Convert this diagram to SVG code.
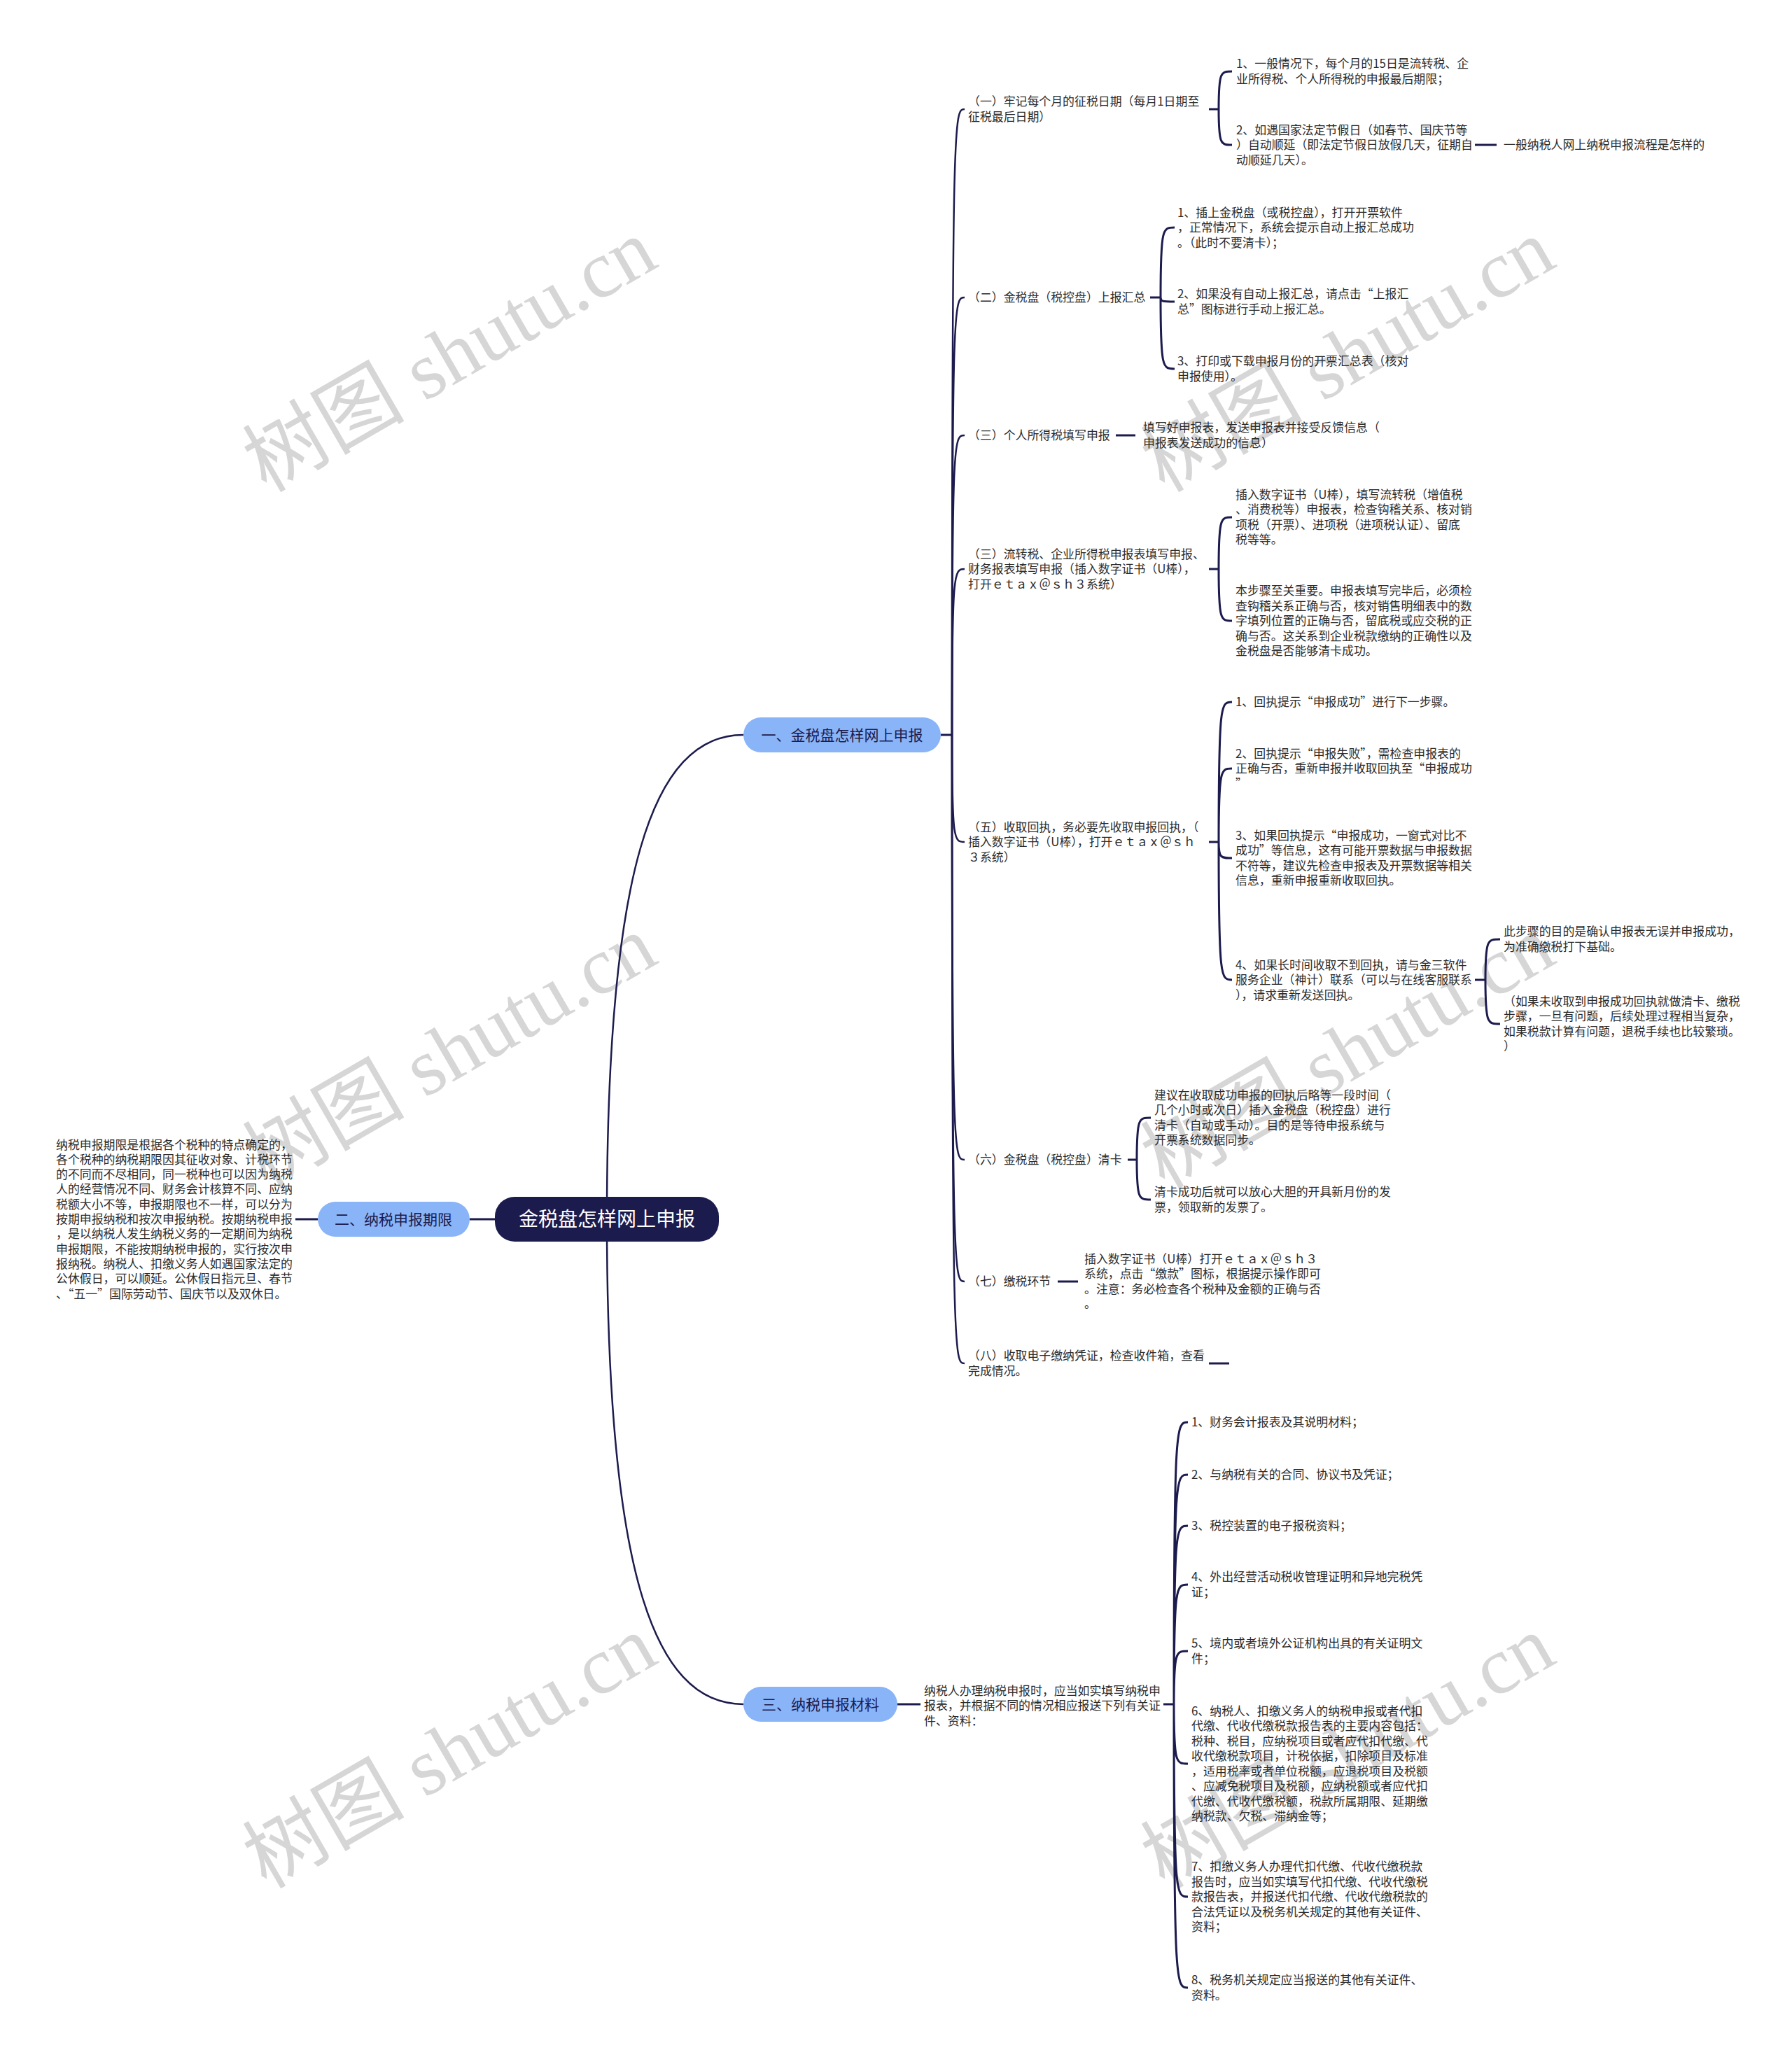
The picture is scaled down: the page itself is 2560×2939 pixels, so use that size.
<svg xmlns="http://www.w3.org/2000/svg" width="2560" height="2939" viewBox="0 0 2560 2939">
<style>
.t{font-family:"Noto Sans CJK SC","Noto Sans",sans-serif;font-size:16.9px;fill:#2b2b2b}
.ln{fill:none;stroke:#1c1b4d;stroke-width:3}
.tr{fill:none;stroke:#1c1b4d;stroke-width:2.5}
.wm{font-family:"Liberation Serif","Noto Sans CJK SC",serif;font-size:116px;fill:#d6d6d6}
.bn{fill:#8ab4f8}
.bt{font-family:"Noto Sans CJK SC",sans-serif;font-size:21px;fill:#1c1b4d;text-anchor:middle}
</style>
<rect width="2560" height="2939" fill="#ffffff"/>
<g id="watermark">
<text class="wm" x="662" y="542" text-anchor="middle" transform="rotate(-30 662 542)">树图 shutu.cn</text>
<text class="wm" x="662" y="1537" text-anchor="middle" transform="rotate(-30 662 1537)">树图 shutu.cn</text>
<text class="wm" x="662" y="2537" text-anchor="middle" transform="rotate(-30 662 2537)">树图 shutu.cn</text>
<text class="wm" x="1945" y="542" text-anchor="middle" transform="rotate(-30 1945 542)">树图 shutu.cn</text>
<text class="wm" x="1945" y="1537" text-anchor="middle" transform="rotate(-30 1945 1537)">树图 shutu.cn</text>
<text class="wm" x="1945" y="2537" text-anchor="middle" transform="rotate(-30 1945 2537)">树图 shutu.cn</text>
</g>
<g id="connectors">
<path class="tr" d="M867 1742 C867 1250 930 1050 1062 1050"/>
<path class="tr" d="M867 1742 C867 2234 930 2435 1062 2435"/>
<path class="ln" d="M671 1742 L707 1742"/>
<path class="ln" d="M422 1742 L454 1742"/>
<path class="ln" d="M1344 1050 L1360 1050"/>
<path class="tr" d="M1360 1050 C1360 156 1363 156 1378 156"/>
<path class="tr" d="M1360 1050 C1360 425 1363 425 1378 425"/>
<path class="tr" d="M1360 1050 C1360 622 1363 622 1378 622"/>
<path class="tr" d="M1360 1050 C1360 813 1363 813 1378 813"/>
<path class="tr" d="M1360 1050 C1360 1203 1363 1203 1378 1203"/>
<path class="tr" d="M1360 1050 C1360 1657 1363 1657 1378 1657"/>
<path class="tr" d="M1360 1050 C1360 1831 1363 1831 1378 1831"/>
<path class="tr" d="M1360 1050 C1360 1948 1363 1948 1378 1948"/>
<path class="ln" d="M1727 156 L1741 156 M1741 156 C1741 102 1744 102 1760 102 M1741 156 C1741 207 1744 207 1760 207"/>
<path class="ln" d="M2107 207 L2138 207"/>
<path class="ln" d="M1643 425 L1658 425 M1658 425 C1658 325 1661 325 1678 325 M1658 425 C1658 431 1661 431 1678 431 M1658 425 C1658 527 1661 527 1678 527"/>
<path class="ln" d="M1594 622 L1622 622"/>
<path class="ln" d="M1727 813 L1741 813 M1741 813 C1741 739 1744 739 1760 739 M1741 813 C1741 887 1744 887 1760 887"/>
<path class="ln" d="M1727 1203 L1741 1203 M1741 1203 C1741 1003 1744 1003 1760 1003 M1741 1203 C1741 1098 1744 1098 1760 1098 M1741 1203 C1741 1226 1744 1226 1760 1226 M1741 1203 C1741 1400 1744 1400 1760 1400"/>
<path class="ln" d="M2107 1400 L2122 1400 M2122 1400 C2122 1342 2125 1342 2143 1342 M2122 1400 C2122 1463 2125 1463 2143 1463"/>
<path class="ln" d="M1611 1657 L1624 1657 M1624 1657 C1624 1597 1627 1597 1644 1597 M1624 1657 C1624 1714 1627 1714 1644 1714"/>
<path class="ln" d="M1511 1831 L1540 1831"/>
<path class="ln" d="M1727 1948 L1756 1948"/>
<path class="ln" d="M1282 2435 L1315 2435"/>
<path class="ln" d="M1662 2435 L1677 2435 M1677 2435 C1677 2032 1680 2032 1697 2032 M1677 2435 C1677 2107 1680 2107 1697 2107 M1677 2435 C1677 2180 1680 2180 1697 2180 M1677 2435 C1677 2264 1680 2264 1697 2264 M1677 2435 C1677 2359 1680 2359 1697 2359 M1677 2435 C1677 2520 1680 2520 1697 2520 M1677 2435 C1677 2710 1680 2710 1697 2710 M1677 2435 C1677 2840 1680 2840 1697 2840"/>
</g>
<g id="root">
<rect x="707" y="1710" width="320" height="64" rx="28" fill="#1c1b4d"/>
<text x="867" y="1752" text-anchor="middle" font-family="Noto Sans CJK SC, sans-serif" font-size="28" fill="#ffffff">金税盘怎样网上申报</text>
</g>
<g id="b1">
<rect class="bn" x="1062" y="1025" width="282" height="50" rx="25"/>
<text class="bt" x="1203" y="1058">一、金税盘怎样网上申报</text>
</g>
<g id="b2">
<rect class="bn" x="454" y="1717" width="217" height="50" rx="25"/>
<text class="bt" x="562" y="1750">二、纳税申报期限</text>
</g>
<g id="b3">
<rect class="bn" x="1062" y="2410" width="220" height="50" rx="25"/>
<text class="bt" x="1172" y="2443">三、纳税申报材料</text>
</g>
<g id="b2-text"><text class="t" y="1641.5">
<tspan x="80">纳税申报期限是根据各个税种的特点确定的，</tspan>
<tspan x="80" dy="21.3">各个税种的纳税期限因其征收对象、计税环节</tspan>
<tspan x="80" dy="21.3">的不同而不尽相同，同一税种也可以因为纳税</tspan>
<tspan x="80" dy="21.3">人的经营情况不同、财务会计核算不同、应纳</tspan>
<tspan x="80" dy="21.3">税额大小不等，申报期限也不一样，可以分为</tspan>
<tspan x="80" dy="21.3">按期申报纳税和按次申报纳税。按期纳税申报</tspan>
<tspan x="80" dy="21.3">，是以纳税人发生纳税义务的一定期间为纳税</tspan>
<tspan x="80" dy="21.3">申报期限，不能按期纳税申报的，实行按次申</tspan>
<tspan x="80" dy="21.3">报纳税。纳税人、扣缴义务人如遇国家法定的</tspan>
<tspan x="80" dy="21.3">公休假日，可以顺延。公休假日指元旦、春节</tspan>
<tspan x="80" dy="21.3">、“五一”国际劳动节、国庆节以及双休日。</tspan>
</text></g>
<g id="c1"><text class="t" y="151.25"><tspan x="1383">（一）牢记每个月的征税日期（每月1日期至</tspan><tspan x="1383" dy="21.5">征税最后日期）</tspan></text></g>
<g id="c1-1"><text class="t" y="97.25"><tspan x="1766">1、一般情况下，每个月的15日是流转税、企</tspan><tspan x="1766" dy="21.5">业所得税、个人所得税的申报最后期限；</tspan></text></g>
<g id="c1-2"><text class="t" y="191.5"><tspan x="1766">2、如遇国家法定节假日（如春节、国庆节等</tspan><tspan x="1766" dy="21.5">）自动顺延（即法定节假日放假几天，征期自</tspan><tspan x="1766" dy="21.5">动顺延几天）。</tspan></text></g>
<g id="c1-2-1"><text class="t" x="2148" y="213">一般纳税人网上纳税申报流程是怎样的</text></g>
<g id="c2"><text class="t" x="1383" y="431">（二）金税盘（税控盘）上报汇总</text></g>
<g id="c2-1"><text class="t" y="309.5"><tspan x="1682">1、插上金税盘（或税控盘），打开开票软件</tspan><tspan x="1682" dy="21.5">，正常情况下，系统会提示自动上报汇总成功</tspan><tspan x="1682" dy="21.5">。（此时不要清卡）；</tspan></text></g>
<g id="c2-2"><text class="t" y="426.25"><tspan x="1682">2、如果没有自动上报汇总，请点击“上报汇</tspan><tspan x="1682" dy="21.5">总”图标进行手动上报汇总。</tspan></text></g>
<g id="c2-3"><text class="t" y="522.25"><tspan x="1682">3、打印或下载申报月份的开票汇总表（核对</tspan><tspan x="1682" dy="21.5">申报使用）。</tspan></text></g>
<g id="c3"><text class="t" x="1383" y="628">（三）个人所得税填写申报</text></g>
<g id="c3-1"><text class="t" y="617.25"><tspan x="1633">填写好申报表，发送申报表并接受反馈信息（</tspan><tspan x="1633" dy="21.5">申报表发送成功的信息）</tspan></text></g>
<g id="c4"><text class="t" y="797.5"><tspan x="1383">（三）流转税、企业所得税申报表填写申报、</tspan><tspan x="1383" dy="21.5">财务报表填写申报（插入数字证书（U棒），</tspan><tspan x="1383" dy="21.5">打开ｅｔａｘ＠ｓｈ３系统）</tspan></text></g>
<g id="c4-1"><text class="t" y="712.75"><tspan x="1765">插入数字证书（U棒），填写流转税（增值税</tspan><tspan x="1765" dy="21.5">、消费税等）申报表，检查钩稽关系、核对销</tspan><tspan x="1765" dy="21.5">项税（开票）、进项税（进项税认证）、留底</tspan><tspan x="1765" dy="21.5">税等等。</tspan></text></g>
<g id="c4-2"><text class="t" y="850"><tspan x="1765">本步骤至关重要。申报表填写完毕后，必须检</tspan><tspan x="1765" dy="21.5">查钩稽关系正确与否，核对销售明细表中的数</tspan><tspan x="1765" dy="21.5">字填列位置的正确与否，留底税或应交税的正</tspan><tspan x="1765" dy="21.5">确与否。这关系到企业税款缴纳的正确性以及</tspan><tspan x="1765" dy="21.5">金税盘是否能够清卡成功。</tspan></text></g>
<g id="c5"><text class="t" y="1187.5"><tspan x="1383">（五）收取回执，务必要先收取申报回执，（</tspan><tspan x="1383" dy="21.5">插入数字证书（U棒），打开ｅｔａｘ＠ｓｈ</tspan><tspan x="1383" dy="21.5">３系统）</tspan></text></g>
<g id="c5-1"><text class="t" x="1765" y="1009">1、回执提示“申报成功”进行下一步骤。</text></g>
<g id="c5-2"><text class="t" y="1082.5"><tspan x="1765">2、回执提示“申报失败”，需检查申报表的</tspan><tspan x="1765" dy="21.5">正确与否，重新申报并收取回执至“申报成功</tspan><tspan x="1765" dy="21.5">”</tspan></text></g>
<g id="c5-3"><text class="t" y="1199.75"><tspan x="1765">3、如果回执提示“申报成功，一窗式对比不</tspan><tspan x="1765" dy="21.5">成功”等信息，这有可能开票数据与申报数据</tspan><tspan x="1765" dy="21.5">不符等，建议先检查申报表及开票数据等相关</tspan><tspan x="1765" dy="21.5">信息，重新申报重新收取回执。</tspan></text></g>
<g id="c5-4"><text class="t" y="1384.5"><tspan x="1765">4、如果长时间收取不到回执，请与金三软件</tspan><tspan x="1765" dy="21.5">服务企业（神计）联系（可以与在线客服联系</tspan><tspan x="1765" dy="21.5">），请求重新发送回执。</tspan></text></g>
<g id="c5-4-1"><text class="t" y="1337.25"><tspan x="2148">此步骤的目的是确认申报表无误并申报成功，</tspan><tspan x="2148" dy="21.5">为准确缴税打下基础。</tspan></text></g>
<g id="c5-4-2"><text class="t" y="1436.75"><tspan x="2148">（如果未收取到申报成功回执就做清卡、缴税</tspan><tspan x="2148" dy="21.5">步骤，一旦有问题，后续处理过程相当复杂，</tspan><tspan x="2148" dy="21.5">如果税款计算有问题，退税手续也比较繁琐。</tspan><tspan x="2148" dy="21.5">）</tspan></text></g>
<g id="c6"><text class="t" x="1383" y="1663">（六）金税盘（税控盘）清卡</text></g>
<g id="c6-1"><text class="t" y="1570.75"><tspan x="1649">建议在收取成功申报的回执后略等一段时间（</tspan><tspan x="1649" dy="21.5">几个小时或次日）插入金税盘（税控盘）进行</tspan><tspan x="1649" dy="21.5">清卡（自动或手动）。目的是等待申报系统与</tspan><tspan x="1649" dy="21.5">开票系统数据同步。</tspan></text></g>
<g id="c6-2"><text class="t" y="1709.25"><tspan x="1649">清卡成功后就可以放心大胆的开具新月份的发</tspan><tspan x="1649" dy="21.5">票，领取新的发票了。</tspan></text></g>
<g id="c7"><text class="t" x="1383" y="1837">（七）缴税环节</text></g>
<g id="c7-1"><text class="t" y="1804.75"><tspan x="1549">插入数字证书（U棒）打开ｅｔａｘ＠ｓｈ３</tspan><tspan x="1549" dy="21.5">系统，点击“缴款”图标，根据提示操作即可</tspan><tspan x="1549" dy="21.5">。注意：务必检查各个税种及金额的正确与否</tspan><tspan x="1549" dy="21.5">。</tspan></text></g>
<g id="c8"><text class="t" y="1943.25"><tspan x="1383">（八）收取电子缴纳凭证，检查收件箱，查看</tspan><tspan x="1383" dy="21.5">完成情况。</tspan></text></g>
<g id="d0"><text class="t" y="2421.5"><tspan x="1320">纳税人办理纳税申报时，应当如实填写纳税申</tspan><tspan x="1320" dy="21.5">报表，并根据不同的情况相应报送下列有关证</tspan><tspan x="1320" dy="21.5">件、资料：</tspan></text></g>
<g id="d1"><text class="t" x="1702" y="2038">1、财务会计报表及其说明材料；</text></g>
<g id="d2"><text class="t" x="1702" y="2113">2、与纳税有关的合同、协议书及凭证；</text></g>
<g id="d3"><text class="t" x="1702" y="2186">3、税控装置的电子报税资料；</text></g>
<g id="d4"><text class="t" y="2259.25"><tspan x="1702">4、外出经营活动税收管理证明和异地完税凭</tspan><tspan x="1702" dy="21.5">证；</tspan></text></g>
<g id="d5"><text class="t" y="2354.25"><tspan x="1702">5、境内或者境外公证机构出具的有关证明文</tspan><tspan x="1702" dy="21.5">件；</tspan></text></g>
<g id="d6"><text class="t" y="2450.75"><tspan x="1702">6、纳税人、扣缴义务人的纳税申报或者代扣</tspan><tspan x="1702" dy="21.5">代缴、代收代缴税款报告表的主要内容包括：</tspan><tspan x="1702" dy="21.5">税种、税目，应纳税项目或者应代扣代缴、代</tspan><tspan x="1702" dy="21.5">收代缴税款项目，计税依据，扣除项目及标准</tspan><tspan x="1702" dy="21.5">，适用税率或者单位税额，应退税项目及税额</tspan><tspan x="1702" dy="21.5">、应减免税项目及税额，应纳税额或者应代扣</tspan><tspan x="1702" dy="21.5">代缴、代收代缴税额，税款所属期限、延期缴</tspan><tspan x="1702" dy="21.5">纳税款、欠税、滞纳金等；</tspan></text></g>
<g id="d7"><text class="t" y="2673"><tspan x="1702">7、扣缴义务人办理代扣代缴、代收代缴税款</tspan><tspan x="1702" dy="21.5">报告时，应当如实填写代扣代缴、代收代缴税</tspan><tspan x="1702" dy="21.5">款报告表，并报送代扣代缴、代收代缴税款的</tspan><tspan x="1702" dy="21.5">合法凭证以及税务机关规定的其他有关证件、</tspan><tspan x="1702" dy="21.5">资料；</tspan></text></g>
<g id="d8"><text class="t" y="2835.25"><tspan x="1702">8、税务机关规定应当报送的其他有关证件、</tspan><tspan x="1702" dy="21.5">资料。</tspan></text></g>
</svg>
